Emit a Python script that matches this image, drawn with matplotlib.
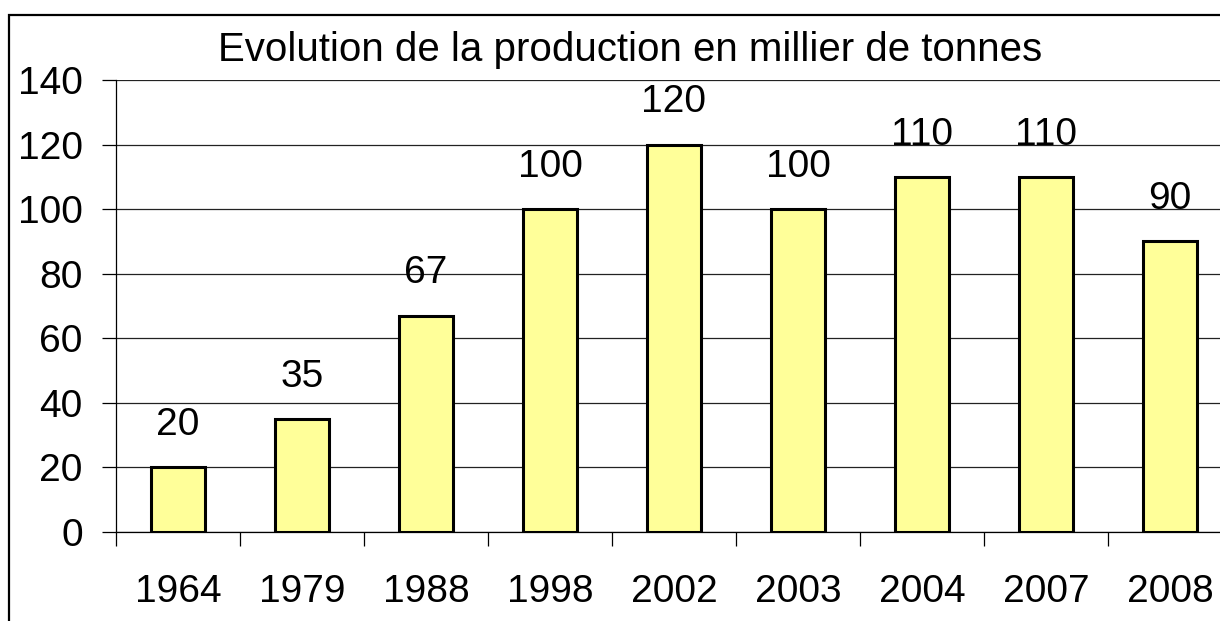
import matplotlib
matplotlib.use("Agg")
import matplotlib.pyplot as plt
from matplotlib.patches import Rectangle

years = ["1964", "1979", "1988", "1998", "2002", "2003", "2004", "2007", "2008"]
production = [20, 35, 67, 100, 120, 100, 110, 110, 90]
title = "Evolution de la production en millier de tonnes"

plt.rcParams['font.family'] = ['Liberation Sans', 'DejaVu Sans']

W, H = 1220, 621
fig = plt.figure(figsize=(W / 100, H / 100), dpi=100)
ax = fig.add_axes([116 / W, (H - 532) / H, (1232 - 116) / W, (532 - 80) / H])

x = list(range(len(years)))
bars = ax.bar(x, production, width=0.43, color="#FFFF99", edgecolor="black", linewidth=2.2, zorder=3)
for xi, v in zip(x, production):
    ax.annotate(str(v), (xi, v), xytext=(0, 17.5), textcoords="offset points",
                ha="center", va="bottom", fontsize=28)

ax.set_xlim(-0.5, len(years) - 0.5)
ax.set_ylim(0, 140)
ax.set_yticks(range(0, 141, 20))
ax.yaxis.grid(True, color="#222222", linewidth=0.9, zorder=0)
ax.set_axisbelow(True)
ax.set_xticks([i - 0.5 for i in range(len(years) + 1)], minor=False)
ax.set_xticklabels([""] * (len(years) + 1))
ax.set_xticks(x, minor=True)
ax.set_xticklabels(years, minor=True)
ax.tick_params(axis="x", which="major", length=10, width=0.9, direction="out")
ax.tick_params(axis="x", which="minor", length=0, pad=30, labelsize=28)
ax.tick_params(axis="y", length=10, width=0.9, direction="out", pad=14, labelsize=28)
for s in ["top", "right"]:
    ax.spines[s].set_visible(False)
for s in ["left", "bottom"]:
    ax.spines[s].set_linewidth(0.9)

fig.text(630 / W, 1 - 50 / H, title, ha="center", va="center", fontsize=29)

fig.patches.append(Rectangle((9 / W, -0.1), 1.2, 1 - 15 / H + 0.1, transform=fig.transFigure,
                             fill=False, edgecolor="black", linewidth=1.6, clip_on=False))

fig.savefig("out.png", dpi=100)
